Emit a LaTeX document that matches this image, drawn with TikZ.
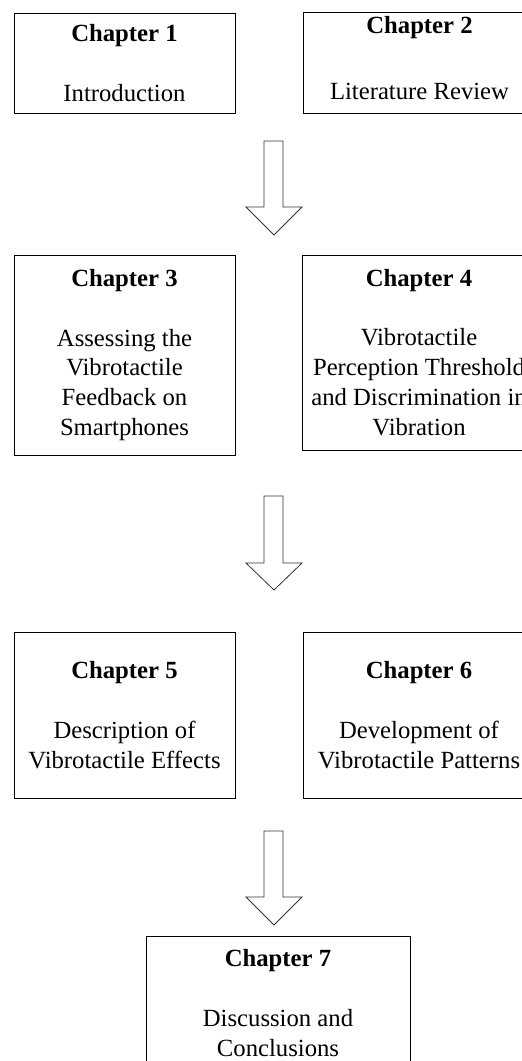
\documentclass[tikz,border=0pt]{standalone}
\usepackage{fontspec}
\setmainfont{Liberation Serif}
\begin{document}
\begin{tikzpicture}[x=1pt,y=-1pt,
  chapbox/.style={draw=black, line width=0.9pt, inner sep=0pt, align=center,
    font=\fontsize{24.7}{29.8}\selectfont},
  chaptext/.style={inner sep=0pt, align=center, font=\fontsize{24.7}{29.8}\selectfont},
  blockarrow/.style={draw=black!80, line width=0.8pt, fill=white}]
\useasboundingbox (0,0) rectangle (522,1061);
\clip (0,0) rectangle (522,1061);
% boxes
\node[chapbox, minimum width=221pt, minimum height=100pt] (c1) at (124.5,63)
  {\textbf{Chapter 1}\\[29.8pt]Introduction};
\node[chapbox, minimum width=233pt, minimum height=101pt] (c2) at (419.5,62.5) {};
\node[chaptext] (c2t) at (419.5,58)
  {\textbf{Chapter 2}\\[36.5pt]Literature Review};
\node[chapbox, minimum width=221pt, minimum height=200pt] (c3) at (124.5,355)
  {\textbf{Chapter 3}\\[29.8pt]Assessing the\\Vibrotactile\\Feedback on\\Smartphones};
\node[chapbox, minimum width=234pt, minimum height=195pt] (c4) at (419,352.5)
  {\textbf{Chapter 4}\\[29.8pt]Vibrotactile\\Perception Threshold\\and Discrimination in\\Vibration};
\node[chapbox, minimum width=221pt, minimum height=166pt] (c5) at (124.5,715)
  {\textbf{Chapter 5}\\[29.8pt]Description of\\Vibrotactile Effects};
\node[chapbox, minimum width=232pt, minimum height=166pt] (c6) at (419,715)
  {\textbf{Chapter 6}\\[29.8pt]Development of\\Vibrotactile Patterns};
\node[chapbox, minimum width=264pt, minimum height=134pt] (c7) at (278,1003)
  {\textbf{Chapter 7}\\[29.8pt]Discussion and\\Conclusions};
% block arrows
\foreach \t/\b/\p in {141/207/235, 496/563/590, 831/897/925}{
  \draw[blockarrow] (264,\t) -- (283,\t) -- (283,\b) -- (302,\b) -- (274,\p)
    -- (246,\b) -- (264,\b) -- cycle;
}
\end{tikzpicture}
\end{document}
